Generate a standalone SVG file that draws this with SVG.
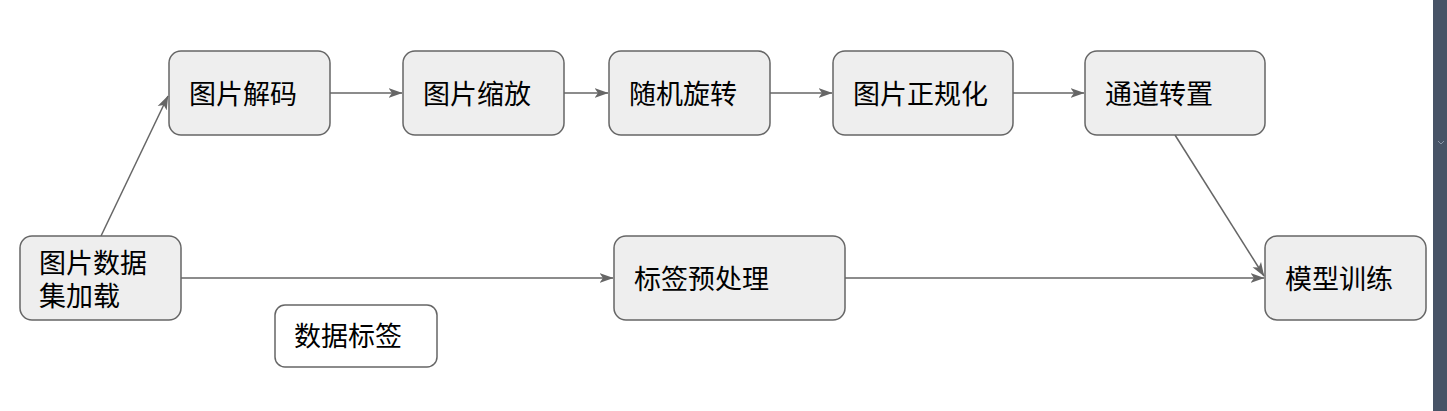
<svg xmlns="http://www.w3.org/2000/svg" width="1447" height="411" viewBox="0 0 1447 411">
<style>
.n{fill:#eeeeee;stroke:#666666;stroke-width:1.5}
.w{fill:#ffffff;stroke:#666666;stroke-width:1.5}
.t{font-family:"Noto Sans CJK SC","Noto Sans",sans-serif;font-size:27px;fill:#000000}
.c{fill:none;stroke:#666666;stroke-width:1.5}
</style>
<defs>
<marker id="ah" viewBox="0 0 14 11" refX="13.5" refY="5.5" markerWidth="14" markerHeight="11" markerUnits="userSpaceOnUse" orient="auto">
<path d="M0,0.5 L14,5.5 L0,10.5 L3.5,5.5 Z" fill="#666666"/>
</marker>
</defs>
<rect width="1447" height="411" fill="#ffffff"/>
<g id="connectors">
<path class="c" d="M101,236 L168,96" marker-end="url(#ah)"/>
<path class="c" d="M330,93 L402,93" marker-end="url(#ah)"/>
<path class="c" d="M564,93 L608,93" marker-end="url(#ah)"/>
<path class="c" d="M770,93 L832,93" marker-end="url(#ah)"/>
<path class="c" d="M1013,93 L1084,93" marker-end="url(#ah)"/>
<path class="c" d="M1175,135 L1264,276" marker-end="url(#ah)"/>
<path class="c" d="M181,278 L613,278" marker-end="url(#ah)"/>
<path class="c" d="M845,278 L1264,278" marker-end="url(#ah)"/>
</g>
<g id="n1"><rect class="n" x="169" y="51" width="161" height="84" rx="12"/><text class="t" x="189" y="104">图片解码</text></g>
<g id="n2"><rect class="n" x="403" y="51" width="161" height="84" rx="12"/><text class="t" x="423" y="104">图片缩放</text></g>
<g id="n3"><rect class="n" x="609" y="51" width="161" height="84" rx="12"/><text class="t" x="629" y="104">随机旋转</text></g>
<g id="n4"><rect class="n" x="833" y="51" width="180" height="84" rx="12"/><text class="t" x="853" y="104">图片正规化</text></g>
<g id="n5"><rect class="n" x="1085" y="51" width="180" height="84" rx="12"/><text class="t" x="1105" y="104">通道转置</text></g>
<g id="n6"><rect class="n" x="20" y="236" width="161" height="84" rx="12"/><text class="t"><tspan x="39" y="273">图片数据</tspan><tspan x="39" y="306">集加载</tspan></text></g>
<g id="n7"><rect class="n" x="614" y="236" width="231" height="84" rx="12"/><text class="t" x="634" y="289">标签预处理</text></g>
<g id="n8"><rect class="n" x="1265" y="236" width="161" height="84" rx="12"/><text class="t" x="1285" y="289">模型训练</text></g>
<g id="n9"><rect class="w" x="275" y="305" width="162" height="62" rx="10"/><text class="t" x="294" y="346">数据标签</text></g>
<rect x="1433" y="0" width="14" height="411" fill="#475366"/>
<path d="M1438,141 L1441,144 L1444,141" fill="none" stroke="#8a94a6" stroke-width="1"/>
</svg>
